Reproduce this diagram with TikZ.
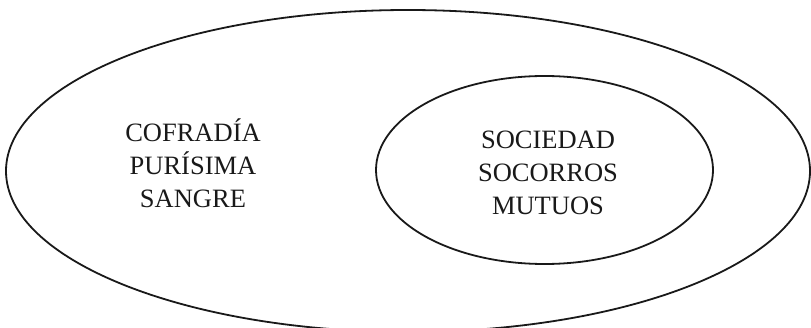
\documentclass[tikz,border=0pt]{standalone}
\usepackage{fontspec}
\setmainfont{Liberation Serif}
\usetikzlibrary{shapes.geometric}

\begin{document}
\begin{tikzpicture}[
  x=1pt, y=1pt,
  conjunto/.style={ellipse, draw=black!90, line width=1.8pt, inner sep=0pt},
  rotulo/.style={align=center, font=\fontsize{26.5}{33}\selectfont, text=black!90}
]
  \useasboundingbox (0,0) rectangle (811,327);
  \clip (0,0) rectangle (811,327);
  \node[conjunto, minimum width=804pt, minimum height=322pt] (cofradia) at (408,156) {};
  \node[conjunto, minimum width=337pt, minimum height=188pt] (sociedad) at (544.5,157) {};
  \node[rotulo] (cofradiatxt) at (193,164) {COFRADÍA\\PURÍSIMA\\SANGRE};
  \node[rotulo] (sociedadtxt) at (548,154) {SOCIEDAD\\SOCORROS\\MUTUOS};
\end{tikzpicture}
\end{document}
